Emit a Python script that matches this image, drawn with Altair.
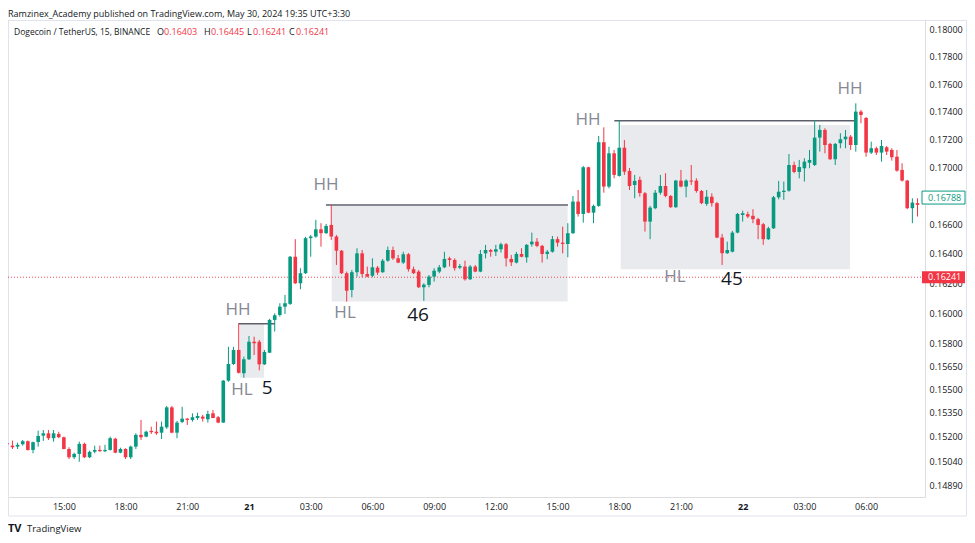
import altair as alt
import pandas as pd

FONT = "Open Sans"
UP = "#089981"
DOWN = "#f23645"
TEXT = "#131722"
GRAY_TXT = "#868993"

# hours counted from 2024-05-20 00:00, one candle every 15 minutes
FIRST_CANDLE_HOUR = 12.25
CANDLE_HOURS = 0.25

opens = [0.15157, 0.15142, 0.15136, 0.15151, 0.15170, 0.15115, 0.15165, 0.15205, 0.15220, 0.15189,
         0.15216, 0.15195, 0.15121, 0.15069, 0.15090, 0.15153, 0.15069, 0.15104, 0.15115, 0.15107,
         0.15115, 0.15186, 0.15098, 0.15121, 0.15069, 0.15136, 0.15210, 0.15199, 0.15235, 0.15230,
         0.15224, 0.15258, 0.15385, 0.15224, 0.15292, 0.15313, 0.15305, 0.15317, 0.15326, 0.15309,
         0.15347, 0.15322, 0.15288, 0.15557, 0.15665, 0.15757, 0.15605, 0.15696, 0.15811, 0.15811,
         0.15663, 0.15739, 0.15955, 0.15988, 0.16043, 0.16062, 0.16380, 0.16200, 0.16268, 0.16507,
         0.16518, 0.16568, 0.16541, 0.16598, 0.16518, 0.16421, 0.16268, 0.16155, 0.16275, 0.16403,
         0.16263, 0.16251, 0.16306, 0.16275, 0.16353, 0.16426, 0.16369, 0.16340, 0.16397, 0.16295,
         0.16279, 0.16173, 0.16189, 0.16245, 0.16279, 0.16308, 0.16369, 0.16358, 0.16306, 0.16313,
         0.16227, 0.16313, 0.16279, 0.16403, 0.16426, 0.16414, 0.16431, 0.16465, 0.16365, 0.16340,
         0.16399, 0.16376, 0.16465, 0.16483, 0.16454, 0.16399, 0.16414, 0.16500, 0.16476, 0.16467,
         0.16541, 0.16760, 0.16674, 0.17001, 0.16683, 0.16730, 0.17179, 0.16865, 0.17100, 0.16940,
         0.17140, 0.16975, 0.16876, 0.16912, 0.16818, 0.16621, 0.16714, 0.16822, 0.16869, 0.16799,
         0.16721, 0.16907, 0.16865, 0.16907, 0.16907, 0.16834, 0.16744, 0.16794, 0.16749, 0.16511,
         0.16404, 0.16414, 0.16545, 0.16667, 0.16672, 0.16661, 0.16638, 0.16603, 0.16500, 0.16575,
         0.16790, 0.16827, 0.16836, 0.17017, 0.16968, 0.16994, 0.17033, 0.17017, 0.17212, 0.17267,
         0.17167, 0.17058, 0.17172, 0.17200, 0.17219, 0.17159, 0.17399, 0.17353, 0.17105, 0.17136,
         0.17105, 0.17143, 0.17124, 0.17076, 0.16982, 0.16907, 0.16714, 0.16749]
highs = [0.15167, 0.15174, 0.15161, 0.15178, 0.15174, 0.15167, 0.15237, 0.15241, 0.15241, 0.15241,
         0.15230, 0.15199, 0.15132, 0.15098, 0.15167, 0.15161, 0.15111, 0.15142, 0.15142, 0.15147,
         0.15199, 0.15191, 0.15129, 0.15126, 0.15142, 0.15220, 0.15305, 0.15237, 0.15262, 0.15294,
         0.15294, 0.15394, 0.15394, 0.15298, 0.15389, 0.15317, 0.15347, 0.15351, 0.15337, 0.15364,
         0.15368, 0.15330, 0.15561, 0.15778, 0.15778, 0.15929, 0.15713, 0.15849, 0.15844, 0.15823,
         0.15757, 0.15962, 0.15999, 0.16066, 0.16122, 0.16385, 0.16500, 0.16302, 0.16516, 0.16529,
         0.16633, 0.16610, 0.16605, 0.16737, 0.16529, 0.16426, 0.16279, 0.16290, 0.16438, 0.16426,
         0.16313, 0.16369, 0.16317, 0.16365, 0.16449, 0.16449, 0.16392, 0.16414, 0.16405, 0.16313,
         0.16290, 0.16200, 0.16256, 0.16302, 0.16324, 0.16414, 0.16380, 0.16369, 0.16331, 0.16353,
         0.16324, 0.16324, 0.16426, 0.16461, 0.16433, 0.16461, 0.16476, 0.16474, 0.16392, 0.16413,
         0.16438, 0.16467, 0.16545, 0.16507, 0.16461, 0.16426, 0.16522, 0.16518, 0.16586, 0.16610,
         0.16799, 0.16841, 0.17010, 0.17005, 0.16739, 0.17224, 0.17286, 0.17147, 0.17124, 0.17334,
         0.17195, 0.16996, 0.16947, 0.16935, 0.16827, 0.16730, 0.16841, 0.16947, 0.16959, 0.16806,
         0.16912, 0.16982, 0.16916, 0.17017, 0.16923, 0.16841, 0.16841, 0.16818, 0.16758, 0.16536,
         0.16483, 0.16557, 0.16681, 0.16697, 0.16690, 0.16707, 0.16647, 0.16612, 0.16586, 0.16799,
         0.16905, 0.16900, 0.17095, 0.17041, 0.17053, 0.17065, 0.17124, 0.17339, 0.17303, 0.17279,
         0.17174, 0.17174, 0.17243, 0.17267, 0.17231, 0.17459, 0.17411, 0.17360, 0.17183, 0.17147,
         0.17195, 0.17152, 0.17136, 0.17124, 0.17029, 0.16912, 0.16783, 0.16783]
lows = [0.15136, 0.15121, 0.15121, 0.15142, 0.15111, 0.15094, 0.15136, 0.15172, 0.15178, 0.15167,
        0.15189, 0.15119, 0.15058, 0.15058, 0.15041, 0.15064, 0.15064, 0.15094, 0.15104, 0.15101,
        0.15111, 0.15094, 0.15094, 0.15058, 0.15058, 0.15121, 0.15178, 0.15195, 0.15216, 0.15210,
        0.15184, 0.15248, 0.15220, 0.15189, 0.15284, 0.15273, 0.15294, 0.15305, 0.15294, 0.15288,
        0.15316, 0.15284, 0.15286, 0.15550, 0.15659, 0.15603, 0.15576, 0.15691, 0.15724, 0.15624,
        0.15659, 0.15737, 0.15878, 0.15977, 0.15995, 0.16055, 0.16195, 0.16160, 0.16263, 0.16380,
        0.16509, 0.16449, 0.16536, 0.16495, 0.16324, 0.16263, 0.16077, 0.16106, 0.16245, 0.16241,
        0.16241, 0.16241, 0.16256, 0.16270, 0.16346, 0.16358, 0.16336, 0.16331, 0.16279, 0.16263,
        0.16169, 0.16082, 0.16173, 0.16211, 0.16268, 0.16302, 0.16313, 0.16285, 0.16295, 0.16218,
        0.16222, 0.16275, 0.16275, 0.16369, 0.16380, 0.16385, 0.16408, 0.16313, 0.16317, 0.16334,
        0.16376, 0.16340, 0.16449, 0.16445, 0.16340, 0.16363, 0.16408, 0.16449, 0.16403, 0.16376,
        0.16536, 0.16656, 0.16614, 0.16679, 0.16610, 0.16723, 0.16822, 0.16853, 0.16923, 0.16935,
        0.16947, 0.16841, 0.16783, 0.16794, 0.16552, 0.16500, 0.16707, 0.16808, 0.16790, 0.16716,
        0.16716, 0.16860, 0.16790, 0.16876, 0.16822, 0.16742, 0.16730, 0.16725, 0.16507, 0.16324,
        0.16399, 0.16410, 0.16541, 0.16621, 0.16645, 0.16610, 0.16500, 0.16461, 0.16495, 0.16570,
        0.16776, 0.16772, 0.16829, 0.16959, 0.16923, 0.16900, 0.16994, 0.17010, 0.17112, 0.17100,
        0.17053, 0.17017, 0.17136, 0.17136, 0.17124, 0.17112, 0.17315, 0.17076, 0.17095, 0.17088,
        0.17041, 0.17088, 0.17048, 0.16970, 0.16900, 0.16707, 0.16610, 0.16656]
closes = [0.15151, 0.15132, 0.15147, 0.15170, 0.15115, 0.15164, 0.15203, 0.15220, 0.15189, 0.15220,
          0.15195, 0.15121, 0.15069, 0.15090, 0.15153, 0.15069, 0.15103, 0.15115, 0.15107, 0.15115,
          0.15189, 0.15098, 0.15121, 0.15069, 0.15136, 0.15210, 0.15195, 0.15230, 0.15227, 0.15220,
          0.15262, 0.15385, 0.15224, 0.15288, 0.15313, 0.15305, 0.15322, 0.15330, 0.15313, 0.15343,
          0.15317, 0.15288, 0.15557, 0.15665, 0.15757, 0.15608, 0.15696, 0.15811, 0.15801, 0.15663,
          0.15744, 0.15955, 0.15986, 0.16043, 0.16066, 0.16380, 0.16200, 0.16268, 0.16507, 0.16518,
          0.16568, 0.16541, 0.16591, 0.16518, 0.16421, 0.16268, 0.16150, 0.16275, 0.16403, 0.16263,
          0.16245, 0.16308, 0.16272, 0.16353, 0.16426, 0.16369, 0.16340, 0.16397, 0.16295, 0.16268,
          0.16173, 0.16191, 0.16245, 0.16285, 0.16308, 0.16365, 0.16358, 0.16302, 0.16317, 0.16227,
          0.16313, 0.16279, 0.16399, 0.16426, 0.16414, 0.16431, 0.16465, 0.16369, 0.16342, 0.16399,
          0.16380, 0.16461, 0.16483, 0.16454, 0.16399, 0.16414, 0.16500, 0.16476, 0.16467, 0.16541,
          0.16760, 0.16674, 0.17001, 0.16683, 0.16730, 0.17179, 0.16865, 0.17100, 0.16947, 0.17140,
          0.16970, 0.16869, 0.16905, 0.16820, 0.16621, 0.16718, 0.16822, 0.16869, 0.16799, 0.16721,
          0.16907, 0.16865, 0.16907, 0.16900, 0.16834, 0.16749, 0.16794, 0.16749, 0.16511, 0.16404,
          0.16426, 0.16545, 0.16674, 0.16679, 0.16656, 0.16638, 0.16598, 0.16500, 0.16575, 0.16790,
          0.16829, 0.16836, 0.17017, 0.16968, 0.17003, 0.17041, 0.17053, 0.17212, 0.17267, 0.17159,
          0.17058, 0.17167, 0.17200, 0.17219, 0.17159, 0.17399, 0.17375, 0.17105, 0.17136, 0.17105,
          0.17152, 0.17112, 0.17072, 0.16977, 0.16907, 0.16714, 0.16753, 0.16737]

# axis ticks
tick_hours = [15, 18, 21, 24, 27, 30, 33, 36, 39, 42, 45, 48, 51, 54]
price_ticks = [0.18, 0.178, 0.176, 0.174, 0.172, 0.170, 0.166, 0.164, 0.162, 0.160,
               0.158, 0.1565, 0.155, 0.1535, 0.152, 0.1504, 0.1489]

# header legend
header_title = "Ramzinex_Academy published on TradingView.com, May 30, 2024 19:35 UTC+3:30"
symbol_text = "Dogecoin / TetherUS, 15, BINANCE"
ohlc_letters = ["O", "H", "L", "C"]
ohlc_values = ["0.16403", "0.16445", "0.16241", "0.16241"]

# price markers on the scale
last_price = 0.16788
cross_price = 0.16241

# structure annotations (hour, price)
ann_label = ["HH", "HL", "5", "HH", "HL", "46", "HH", "HL", "45", "HH"]
ann_hour = [23.47, 23.66, 24.88, 27.74, 28.67, 32.22, 40.48, 44.71, 47.48, 53.22]
ann_price = [0.16021, 0.15497, 0.15510, 0.16876, 0.16001, 0.15988, 0.17339, 0.16243, 0.16229, 0.17563]

box_start = [23.56, 28.02, 42.07]
box_end = [24.73, 39.49, 53.22]
box_top = [0.15929, 0.16730, 0.17303]
box_bottom = [0.15576, 0.16077, 0.16295]

line_start = [23.48, 27.74, 41.76]
line_end = [25.26, 39.51, 53.46]
line_price = [0.15929, 0.16737, 0.17334]

# ---------------------------------------------------------------
candles = pd.DataFrame({
    "t": [FIRST_CANDLE_HOUR + i * CANDLE_HOURS for i in range(len(opens))],
    "open": opens, "high": highs, "low": lows, "close": closes,
})
ann = pd.DataFrame({"t": ann_hour, "p": ann_price, "label": ann_label})
ann["num"] = ann["label"].str.isdigit()
boxes = pd.DataFrame({"t0": box_start, "t1": box_end, "p0": box_top, "p1": box_bottom})
lines = pd.DataFrame({"t0": line_start, "t1": line_end, "p": line_price})

W, H = 917, 477

xscale = alt.Scale(domain=[12.284, 56.864], nice=False, zero=False, padding=0)
yscale = alt.Scale(type="log", domain=[0.14822, 0.18075], nice=False, zero=False, padding=0)

xaxis = alt.Axis(
    orient="bottom", values=tick_hours, title=None, domain=False, ticks=False, grid=False,
    labelExpr="datum.value % 24 === 0 ? toString(20 + datum.value / 24) : "
              "((datum.value % 24) < 10 ? '0' : '') + toString(datum.value % 24) + ':00'",
    labelFont=FONT, labelFontSize=9, labelColor=TEXT, labelPadding=5,
    labelOverlap=False, labelFlush=False,
    labelFontWeight={"condition": {"test": "datum.value % 24 === 0", "value": "bold"},
                     "value": "normal"},
)
yaxis = alt.Axis(
    orient="right", values=price_ticks, format=".5f", title=None, domain=False, ticks=False,
    grid=False, labelFont=FONT, labelFontSize=9, labelColor=TEXT, labelPadding=4,
    labelOverlap=False, labelBound=False,
)


def X(f):
    return alt.X(f, type="quantitative", scale=xscale, axis=xaxis)


def Y(f):
    return alt.Y(f, type="quantitative", scale=yscale, axis=yaxis)


color_cond = alt.condition("datum.close >= datum.open", alt.value(UP), alt.value(DOWN))

box_layer = alt.Chart(boxes).mark_rect(color="#e9eaee").encode(
    x=X("t0"), x2="t1", y=Y("p0"), y2="p1")

line_layer = alt.Chart(lines).mark_rule(color="#5d606b", strokeWidth=1.5).encode(
    x=X("t0"), x2="t1", y=Y("p"))

cross_line = alt.Chart(pd.DataFrame({"p": [cross_price]})).mark_rule(
    color=DOWN, strokeWidth=1, strokeDash=[1, 2], opacity=0.9).encode(
    x=alt.value(0), x2=alt.value(914), y=Y("p"))

wicks = alt.Chart(candles).mark_rule(strokeWidth=1, clip=True).encode(
    x=X("t"), y=Y("low"), y2="high", color=color_cond)

bodies = alt.Chart(candles).mark_bar(size=3.6, clip=True).encode(
    x=X("t"), y=Y("open"), y2="close", color=color_cond)

letters = alt.Chart(ann).transform_filter("!datum.num").mark_text(
    font=FONT, fontSize=17, color=GRAY_TXT, align="center", baseline="middle").encode(
    x=X("t"), y=Y("p"), text="label:N")

counts = alt.Chart(ann).transform_filter("datum.num").mark_text(
    font=FONT, fontSize=19, color=TEXT, align="center", baseline="middle").encode(
    x=X("t"), y=Y("p"), text="label:N")

# price labels on the scale
red_tag = alt.Chart(pd.DataFrame({"p": [cross_price]})).transform_calculate(
    hi="datum.p * 1.0025", lo="datum.p / 1.0025").mark_rect(color=DOWN).encode(
    x=alt.value(914), x2=alt.value(957), y=Y("hi:Q"), y2="lo:Q")
red_txt = alt.Chart(pd.DataFrame({"p": [cross_price]})).mark_text(
    font=FONT, fontSize=9, color="white", align="left", baseline="middle").encode(
    x=alt.value(920), y=Y("p"), text=alt.Text("p:Q", format=".5f"))
green_tag = alt.Chart(pd.DataFrame({"p": [last_price]})).transform_calculate(
    hi="datum.p * 1.0027", lo="datum.p / 1.0027").mark_rect(
    fill="white", stroke=UP, strokeWidth=1).encode(
    x=alt.value(914), x2=alt.value(957), y=Y("hi:Q"), y2="lo:Q")
green_txt = alt.Chart(pd.DataFrame({"p": [last_price]})).mark_text(
    font=FONT, fontSize=9, color=UP, align="left", baseline="middle").encode(
    x=alt.value(920), y=Y("p"), text=alt.Text("p:Q", format=".5f"))


def label(txt, px, py, color=TEXT, size=9, weight="normal"):
    return alt.Chart(pd.DataFrame({"s": [txt]})).mark_text(
        font=FONT, fontSize=size, color=color, fontWeight=weight,
        align="left", baseline="middle").encode(
        x=alt.value(px), y=alt.value(py), text="s:N")


frame = alt.Chart(pd.DataFrame({"a": [0]})).mark_rect(
    filled=False, stroke="#e0e3eb", strokeWidth=1).encode(
    x=alt.value(0.5), x2=alt.value(958.5), y=alt.value(0.5), y2=alt.value(496))

header = [
    label(header_title, 0, -6),
    label(symbol_text, 6, 12, size=8.5),
]
letter_x = [149, 196, 239, 281]
value_x = [156, 203, 245, 288]
for lt, lx, vv, vx in zip(ohlc_letters, letter_x, ohlc_values, value_x):
    header.append(label(lt, lx, 12))
    header.append(label(vv, vx, 12, color=DOWN))

logo = [
    label("TV", 0, 509, size=11, weight="bold"),
    label("TradingView", 19, 509, size=9.5),
]

chart = alt.layer(
    frame, box_layer, cross_line, line_layer, wicks, bodies, letters, counts,
    red_tag, red_txt, green_tag, green_txt, *header, *logo,
).properties(
    width=W, height=H,
    autosize=alt.AutoSizeParams(type="none"),
    padding={"left": 0, "top": 12, "right": 42, "bottom": 38},
).configure_view(stroke=None).configure(background="white")

chart.save("out.html", embed_options={"renderer": "svg", "actions": False})
